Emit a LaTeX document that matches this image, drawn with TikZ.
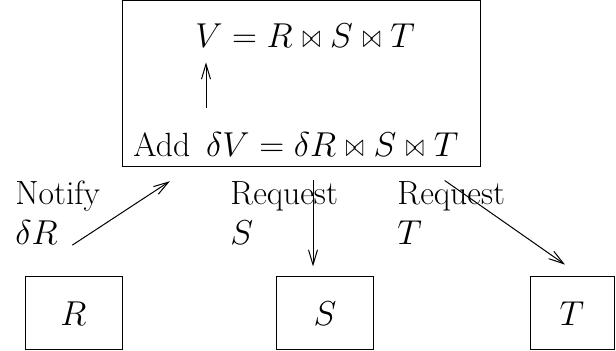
\documentclass[tikz,border=0pt]{standalone}
\usepackage{amsmath,amssymb,graphicx}
\usetikzlibrary{arrows.meta,positioning,calc}
\newcommand{\njoin}{\mathrel{\scalebox{0.65}[0.95]{$\bowtie$}}}

\begin{document}
\begin{tikzpicture}[
  x=0.5pt, y=-0.5pt,
  font=\fontsize{16.8}{20}\selectfont,
  rel/.style={draw,line width=0.5pt,minimum width=48.5pt,minimum height=36.5pt,inner sep=0pt},
  lbl/.style={anchor=base west,inner sep=0pt},
  eqn/.style={lbl,font=\fontsize{16}{20}\selectfont},
  arr/.style={-{Straight Barb[length=7.5pt,width=4.5pt]},line width=0.5pt}
]
  \useasboundingbox (0,0) rectangle (616,351);
  % view box
  \node[draw,line width=0.5pt,minimum width=179pt,minimum height=83pt,inner sep=0pt] (view) at (301.5,84) {};
  \node[eqn] (vjoin) at (195,48) {$V = R \njoin S \njoin T$};
  \node[eqn] (delta) at (133,157) {{\fontsize{16.8}{20}\selectfont Add}\enspace$\delta V = \delta R \njoin S \njoin T$};
  \draw[arr,shorten <=12.5pt,shorten >=7pt] ([xshift=5.5pt]vjoin.south west |- delta.north) -- ([xshift=5.5pt]vjoin.south west);
  % base relations
  \node[rel] (R) at (73.5,313.5) {$R$};
  \node[rel] (S) at (325,313.5) {$S$};
  \node[rel,minimum width=42pt] (T) at (572,313.5) {$T$};
  % messages
  \node[lbl] (notify) at (15,205) {Notify};
  \node[lbl] (dR) at (15,245) {$\delta R$};
  \node[lbl] (reqS) at (230,205) {Request};
  \node[lbl] (nameS) at (230,245) {$S$};
  \node[lbl] (reqT) at (397,205) {Request};
  \node[lbl] (nameT) at (397,245) {$T$};
  \draw[arr,shorten <=28.6pt,shorten >=12.5pt] (R.north west) -- ([xshift=34.4pt]view.south west);
  \draw[arr,shorten <=6.5pt,shorten >=5pt] ([xshift=-6pt]S.north |- view.south) -- ([xshift=-6pt]S.north);
  \draw[arr,shorten <=11.3pt,shorten >=10.4pt] ([xshift=62.3pt]view.south) -- ([xshift=5pt]T.north);
\end{tikzpicture}
\end{document}
